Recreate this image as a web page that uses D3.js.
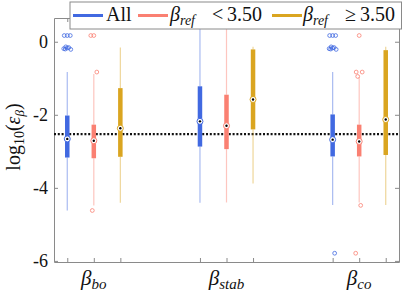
<!DOCTYPE html>
<html><head><meta charset="utf-8">
<script src="https://cdn.jsdelivr.net/npm/d3@7"></script>
<style>
html,body{margin:0;padding:0;background:#fff;}
svg{display:block;font-family:"Liberation Serif","DejaVu Serif",serif;}
</style></head>
<body><svg id="c" width="407" height="295"></svg>
<script>
// ---- data ----
const categories = ["bo", "stab", "co"];            // subscripts of beta
const seriesNames = ["All", "lt", "ge"];            // All, beta_ref < 3.50, beta_ref >= 3.50
const seriesColors = ["#4169E1", "#FA8072", "#DAA520"];
// box statistics, order: [bo-All, bo-lt, bo-ge, stab-All, stab-lt, stab-ge, co-All, co-lt, co-ge]
const lowerWhisker = [-4.62, -4.48, -4.41, -4.41, -4.40, -3.88, -4.47, -4.40, -4.47];
const q1           = [-3.17, -3.19, -3.15, -2.87, -2.94, -2.40, -3.14, -3.14, -3.10];
const median       = [-2.66, -2.71, -2.37, -2.18, -2.30, -1.58, -2.68, -2.73, -2.13];
const q3           = [-2.02, -2.27, -1.27, -1.22, -1.45, -0.21, -1.99, -2.27, -0.23];
const upperWhisker = [-0.83, -0.88, -0.16, 0.60, 0.60, -0.14, -0.83, -0.97, -0.14];
const outliers = [
  [0.17, 0.17, 0.17, -0.14, -0.16, -0.19, -0.21, -0.17, -0.20],
  [0.17, 0.17, -0.83, -4.62],
  [],
  [], [], [],
  [0.17, 0.17, 0.17, -0.14, -0.16, -0.19, -0.21, -0.17, -0.20, -5.79],
  [0.17, -0.83, -0.83, -0.95, -4.48, -5.79],
  []
];
const refLine = -2.53;
const yTicks = [0, -2, -4, -6];
const thresholdLabel = "3.50";

// ---- layout ----
const svg = d3.select("#c");
const L = 54, R = 399, T = 18, B = 262;
const x = d3.scaleLinear().domain([0.5, 13.5]).range([L, R]);
const y = d3.scaleLinear().domain([-6.03, 0.65]).range([B, T]);
const pos = i => 1 + Math.floor(i / 3) * 5 + (i % 3);
const axisCol = "#8a8a8a";

const g = svg.append("g");

// axes
const yAx = g.append("g").attr("transform", `translate(${L},0)`)
  .call(d3.axisLeft(y).tickValues(yTicks).tickSizeInner(-4).tickSizeOuter(0).tickPadding(6).tickFormat(d => String(d)));
const yAxR = g.append("g").attr("transform", `translate(${R},0)`)
  .call(d3.axisRight(y).tickValues(yTicks).tickSizeInner(-4).tickSizeOuter(0).tickFormat(""));
const xPos = d3.range(9).map(pos);
const xAx = g.append("g").attr("transform", `translate(0,${B})`)
  .call(d3.axisBottom(x).tickValues(xPos).tickSizeInner(-4).tickSizeOuter(0).tickFormat(""));
const xAxT = g.append("g").attr("transform", `translate(0,${T})`)
  .call(d3.axisTop(x).tickValues(xPos).tickSizeInner(-4).tickSizeOuter(0).tickFormat(""));
[yAx, yAxR, xAx, xAxT].forEach(a => {
  a.select(".domain").attr("stroke", axisCol);
  a.selectAll(".tick line").attr("stroke", axisCol);
});
yAx.selectAll(".tick text").attr("font-size", 18).attr("fill", "#111")
  .attr("font-family", "Liberation Serif, serif");

// category labels
categories.forEach((c, k) => {
  const t = g.append("text").attr("x", x(pos(k * 3 + 1))).attr("y", 285)
    .attr("text-anchor", "middle").attr("font-size", 21).attr("fill", "#111");
  t.append("tspan").attr("font-style", "italic").text("β");
  t.append("tspan").attr("font-style", "italic").attr("font-size", 15).attr("dy", 4).text(c);
});

// y label
const yl = g.append("text").attr("transform", `translate(20,137) rotate(-90)`)
  .attr("text-anchor", "middle").attr("font-size", 20).attr("fill", "#111");
yl.append("tspan").text("log");
yl.append("tspan").attr("font-size", 14).attr("dy", 4).text("10");
yl.append("tspan").attr("dy", -4).text("(");
yl.append("tspan").attr("font-style", "italic").text("ε");
yl.append("tspan").attr("font-style", "italic").attr("font-size", 13).attr("dy", 4).text("β");
yl.append("tspan").attr("dy", -4).text(")");

// reference line
g.append("line").attr("x1", L).attr("x2", R).attr("y1", y(refLine)).attr("y2", y(refLine))
  .attr("stroke", "#111").attr("stroke-width", 2.4).attr("stroke-dasharray", "2,1.8");

// boxes
const boxW = 4.5;
const jit = [0, -3, 3, -1.5, 1.5, -3.5, 3.5, 0, -2, 2];
d3.range(9).forEach(i => {
  const cx = x(pos(i)), col = seriesColors[i % 3];
  g.append("line").attr("x1", cx).attr("x2", cx).attr("y1", y(q3[i])).attr("y2", y(upperWhisker[i]))
    .attr("stroke", col).attr("stroke-opacity", 0.45).attr("stroke-width", 1.2);
  g.append("line").attr("x1", cx).attr("x2", cx).attr("y1", y(q1[i])).attr("y2", y(lowerWhisker[i]))
    .attr("stroke", col).attr("stroke-opacity", 0.45).attr("stroke-width", 1.2);
  g.append("rect").attr("x", cx - boxW / 2).attr("width", boxW)
    .attr("y", y(q3[i])).attr("height", y(q1[i]) - y(q3[i])).attr("fill", col);
  outliers[i].forEach((v, j) => {
    g.append("circle").attr("cx", cx + jit[j % jit.length] * (outliers[i].length > 1 ? 1 : 0))
      .attr("cy", y(v)).attr("r", 1.9)
      .attr("fill", "none").attr("stroke", col).attr("stroke-width", 0.8);
  });
  g.append("circle").attr("cx", cx).attr("cy", y(median[i])).attr("r", 3)
    .attr("fill", "#fff").attr("stroke", col).attr("stroke-width", 1);
  g.append("circle").attr("cx", cx).attr("cy", y(median[i])).attr("r", 1.2).attr("fill", "#000");
});

// legend
const lg = g.append("g");
lg.append("rect").attr("x", 70).attr("y", 2).attr("width", 331.5).attr("height", 27)
  .attr("fill", "#fff").attr("stroke", axisCol).attr("stroke-width", 1);
const legX = [[73, 106], [138, 170], [272, 303]];
legX.forEach((p, k) => {
  lg.append("line").attr("x1", p[0]).attr("x2", p[0] + 30).attr("y1", 15.5).attr("y2", 15.5)
    .attr("stroke", seriesColors[k]).attr("stroke-width", 3);
  const t = lg.append("text").attr("x", p[1]).attr("y", 21).attr("font-size", 20).attr("fill", "#111");
  if (k === 0) { t.text(seriesNames[0]); return; }
  t.append("tspan").attr("font-style", "italic").text("β");
  t.append("tspan").attr("font-style", "italic").attr("font-size", 14).attr("dy", 4).text("ref");
  t.append("tspan").attr("dy", -4).attr("x", p[1] + 42).text(k === 1 ? "<" : "≥");
  t.append("tspan").attr("x", p[1] + 57).text(thresholdLabel);
});
</script></body></html>
